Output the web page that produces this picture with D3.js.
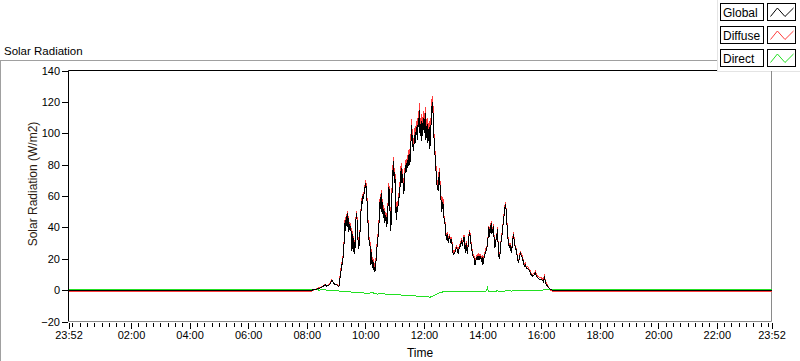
<!DOCTYPE html>
<html><head><meta charset="utf-8">
<script src="https://cdn.jsdelivr.net/npm/d3@7"></script>
<style>
html,body{margin:0;padding:0;background:#fff;}
svg{display:block;font-family:"Liberation Sans",Arial,sans-serif;}
</style></head>
<body>
<svg id="c" width="800" height="361"></svg>
<script>
// ---- DATA (time in minutes since midnight; -8 = 23:52 of previous day) ----
const seriesNames = ["Global", "Diffuse", "Direct"];
const yTickValues = [-20, 0, 20, 40, 60, 80, 100, 120, 140];
const xTickValues = [-8, 120, 240, 360, 480, 600, 720, 840, 960, 1080, 1200, 1320, 1432];
const xTickLabels = ["23:52","02:00","04:00","06:00","08:00","10:00","12:00","14:00","16:00","18:00","20:00","22:00","23:52"];

const globalData = [[-8,0],[490,0],[497.2,0.3],[504,1],[510.9,2],[514.3,2.5],[517.7,3.5],[521.1,2.5],[524.6,3],[528,4],[531.4,6.4],[534.8,4.5],[538.2,3.5],[541.6,3.5],[545,2.5],[547.1,3],
[548.5,9],[550.5,13],[552.6,17],[554.6,21],[556,27],[557.3,35],[558.7,45],[560,38],[561.4,47],[562.8,40],[564.2,49],[565.5,37],[566.9,42],[569,38],[570.3,41],[572.4,25],[573.7,36],[575.1,24],[576.5,33],[577.8,23],[579.9,30],[581.2,49],[582.6,47],[584,40],[585.3,30],[586.7,26],[588,33],[589.4,38],[590.8,48],[592.2,57],[593.5,55],[594.9,60],[596.3,58],[597.6,62],[599.7,66],
[601,68],[602.4,63],[603.8,55],[605.1,45],[606.5,38],[607.9,30],[610,28],[611.4,16],[612.7,24],[614.1,14],[615.5,19],[616.8,13],[618.2,15],[619.6,12],[620.9,13],[623,25],[625,30],[627.8,41],[629.8,56],[631.2,52],[632.5,62],[633.9,50],[635.3,56],[636.6,46],[638,52],[640,43],[642.1,48],[644.1,40],[645.5,50],[646.9,55],[648.2,66],[649.6,58],
[651,47],[652.3,38],[653.7,52],[655.1,66],[656.4,75],[657.8,82],[659.2,68],[660.5,75],[661.9,58],[663.3,45],[664.6,53],[666,50],[667.4,55],[669.4,60],[670.8,64],[672.2,72],[673.5,78],[674.9,68],[676.3,74],[677.6,66],[679,61],[680.3,72],[681.7,76],[683.1,80],[684.4,75],[685.8,83],[687.2,78],[688.5,85],[689.9,87],
[691.3,80],[692.6,88],[694,98],[694.7,105],[696,96],[697.4,92],[698.8,89],[700.2,95],[701.5,99],[702.9,94],[704.3,104],[705.6,100],[707,96],[708.4,110],[709.8,104],[710.4,115],[711.8,100],[713.1,106],[714.5,95],[715.9,108],[717.2,98],[718.6,104],[720,110],[721.3,100],[722.7,113],[724.1,96],[725.4,102],[726.8,106],[728.2,94],[729.5,99],[730.9,104],[732.3,90],[733.6,100],[735,108],[736.4,117],[737.7,120],[739.1,110],
[740.5,98],[741.8,90],[743.2,84],[744.6,77],[745.9,70],[747.3,66],[749.4,63],[750.8,72],[752.1,75],[753.5,62],[754.9,58],[756.2,50],[757.6,53],[759,56],
[760.3,48],[761.7,45],[763.7,41],[765.8,32],[767.8,36],[769.9,30],[771.3,33],[772.6,34],[774.7,31],[776,32],[777.4,30],[779.5,24],[780.8,23],[782.9,24],[784.9,25],[786.3,27],[788.3,26],[790.4,23],[791.7,26],[793.1,27],[795.2,29],[797.2,32],[798.6,28],[799.9,30],[802,34],[803.4,30],[804.7,24],[806.8,30],[808.8,23],[810.9,29],[812.2,34],[813.6,37],[815.6,32],[817.7,26],[819.1,24],[820.4,22],[822.5,21],[824.5,16],[825.9,18],[827.3,20],[829.3,21],[831.4,19],[832.7,22],[834.1,20],[836.1,21],[838.2,19],[839.6,21],[840.9,16],[843,20],[844.3,22],[846.4,24],[847.8,26],[849.8,28],
[851.8,35],[853.2,40],[854.6,34],[856,38],[858,43],[859.4,36],[860.7,38],[862.8,41],[864.1,30],[865.5,27],[866.9,31],[868.9,33],[871,39],[872.3,25],[873.7,21],[875.1,20],[877.1,28],[879.2,34],[880.5,36],[881.9,41],[884,47],[885.3,50],[886.7,55],[888.1,52],[889.5,44],[890.8,40],[892.2,33],[893.6,29],[894.9,27],[896.3,29],[897.7,26],[899,24],[900.4,27],[901.8,30],[903.1,36],[904.5,33],[905.9,29],[907.2,27],[908.6,26],[910,24],[912,19],[914.1,18],[916.1,21],[917.5,24],[919.5,22],[921.6,21],[923.6,18],[925.7,15],[927.7,16],[929.8,14],[932.5,14],[934.6,13],[936.6,12],[939.3,10],[942.8,9],[946.2,10],[948.2,11],[950.3,9],[953,8],[956.4,7],[959.8,7],[963.2,6],[965.3,5],[966.7,9],[968.7,5],[970.8,3.5],[973.5,2.5],[976.9,1],[980.3,0.3],[983.7,0],[1432,0]];

const diffuseData = [[-8,-0.7],[490,-0.7],[497.2,0.6],[504,1.3],[510.9,2.3],[514.3,2.8],[517.7,3.8],[521.1,2.8],[524.6,3.3],[528,4.3],[531.4,6.7],[534.8,4.8],[538.2,3.8],[541.6,3.8],[545,2.8],[547.1,3.3],
[548.5,10.5],[550.5,14.5],[552.6,18.5],[554.6,22.5],[556,28.5],[557.3,36.5],[558.7,46.5],[560,39.5],[561.4,48.5],[562.8,41.5],[564.2,50.5],[565.5,38.5],[566.9,43.5],[569,39.5],[570.3,42.5],[572.4,26.5],[573.7,37.5],[575.1,25.5],[576.5,34.5],[577.8,24.5],[579.9,31.5],[581.2,50.5],[582.6,48.5],[584,41.5],[585.3,31.5],[586.7,27.5],[588,34.5],[589.4,39.5],[590.8,49.5],[592.2,58.5],[593.5,56.5],[594.9,61.5],[596.3,59.5],[597.6,63.5],[599.7,67.5],
[601,70],[602.4,65],[603.8,57],[605.1,47],[606.5,40],[607.9,32],[610,30],[611.4,18],[612.7,26],[614.1,16],[615.5,21],[616.8,15],[618.2,17],[619.6,14],[620.9,15],[623,27],[625,32],[627.8,43],[629.8,58],[631.2,54],[632.5,64],[633.9,52],[635.3,58],[636.6,48],[638,54],[640,45],[642.1,50],[644.1,42],[645.5,52],[646.9,57],[648.2,68],[649.6,60],
[651,50],[652.3,41],[653.7,55],[655.1,69],[656.4,78],[657.8,85],[659.2,71],[660.5,78],[661.9,61],[663.3,48],[664.6,56],[666,53],[667.4,58],[669.4,63],[670.8,67],[672.2,75],[673.5,81],[674.9,71],[676.3,77],[677.6,69],[679,64],[680.3,75],[681.7,79],[683.1,83],[684.4,78],[685.8,86],[687.2,81],[688.5,88],[689.9,90],
[691.3,84],[692.6,92],[694,102],[694.7,109],[696,100],[697.4,96],[698.8,93],[700.2,99],[701.5,103],[702.9,98],[704.3,108],[705.6,104],[707,100],[708.4,114],[709.8,108],[710.4,119],[711.8,104],[713.1,110],[714.5,99],[715.9,112],[717.2,102],[718.6,108],[720,114],[721.3,104],[722.7,117],[724.1,100],[725.4,106],[726.8,110],[728.2,98],[729.5,103],[730.9,108],[732.3,94],[733.6,104],[735,112],[736.4,121],[737.7,124],[739.1,114],
[740.5,101],[741.8,93],[743.2,87],[744.6,80],[745.9,73],[747.3,69],[749.4,66],[750.8,75],[752.1,78],[753.5,65],[754.9,61],[756.2,53],[757.6,56],[759,59],
[760.3,49.3],[761.7,46.3],[763.7,42.3],[765.8,33.3],[767.8,37.3],[769.9,31.3],[771.3,34.3],[772.6,35.3],[774.7,32.3],[776,33.3],[777.4,31.3],[779.5,25.3],[780.8,24.3],[782.9,25.3],[784.9,26.3],[786.3,28.3],[788.3,27.3],[790.4,24.3],[791.7,27.3],[793.1,28.3],[795.2,30.3],[797.2,33.3],[798.6,29.3],[799.9,31.3],[802,35.3],[803.4,31.3],[804.7,25.3],[806.8,31.3],[808.8,24.3],[810.9,30.3],[812.2,35.3],[813.6,38.3],[815.6,33.3],[817.7,27.3],[819.1,25.3],[820.4,23.3],[822.5,22.3],[824.5,17.3],[825.9,19.3],[827.3,21.3],[829.3,22.3],[831.4,20.3],[832.7,23.3],[834.1,21.3],[836.1,22.3],[838.2,20.3],[839.6,22.3],[840.9,17.3],[843,21.3],[844.3,23.3],[846.4,25.3],[847.8,27.3],[849.8,28.5],
[851.8,36],[853.2,41],[854.6,35],[856,39],[858,44],[859.4,37],[860.7,39],[862.8,42],[864.1,31],[865.5,28],[866.9,32],[868.9,34],[871,40],[872.3,26],[873.7,22],[875.1,21],[877.1,29],[879.2,35],[880.5,37],[881.9,42],[884,48],[885.3,51],[886.7,56],[888.1,53],[889.5,45],[890.8,41],[892.2,34],[893.6,30],[894.9,28],[896.3,30],[897.7,27],[899,25],[900.4,28],[901.8,31],[903.1,37],[904.5,34],[905.9,30],[907.2,28],[908.6,27],[910,25],[912,20],[914.1,19],[916.1,22],[917.5,25],[919.5,23],[921.6,22],[923.6,19],[925.7,16],[927.7,17],[929.8,15],[932.5,15],[934.6,14],[936.6,13],[939.3,11],[942.8,10],[946.2,11],[948.2,12],[950.3,10],[953,9],[956.4,8],[959.8,8],[963.2,7],[965.3,6],[966.7,10],[968.7,6],[970.8,4.5],[973.5,3],[976.9,1],[980.3,-0.2],[983.7,-0.7],[1432,-0.7]];

const directData = [[-8,0.7],[497,0.7],[505,0],[515,0.3],[525,-0.3],[535,0],[545,-0.5],[555,-1],[565,-0.8],[575,-1.5],[585,-1.2],[595,-1.8],[605,-2],[615,-1.7],[625,-2.5],[635,-2.2],[645,-2.8],[655,-3],[665,-2.7],[675,-3.2],[685,-3.5],[695,-3.3],[705,-3.8],[715,-4],[725,-4.2],[733,-4.5],[740,-3.5],[745,-2.8],[750,-2],[755,-1.5],[760,-1],[770,-0.8],[780,-1.2],[790,-0.7],[800,-1],[810,-0.6],[820,-1],[830,-0.8],[840,-1.1],[848,-0.5],[850,1.5],[852,-0.7],[860,-1],[870,-0.5],[880,-0.8],[890,-0.4],[900,-0.6],[910,-0.3],[920,-0.5],[930,-0.2],[940,-0.4],[950,-0.2],[960,0],[970,0.2],[980,0.7],[1432,0.7]];

const seriesColors = ["#000000", "#ff3c3c", "#22e022"];

// ---- LAYOUT ----
const svg = d3.select("#c");
const L = 68.5, R = 771.5, T = 70.5, B = 321.5;
const x = d3.scaleLinear().domain([-8, 1432]).range([L, R]);
const y = d3.scaleLinear().domain([-20, 140]).range([B, T]);

// outer panel frame
svg.append("line").attr("x1",0).attr("x2",717).attr("y1",60.5).attr("y2",60.5).attr("stroke","#a0a0a0");
svg.append("line").attr("x1",0.5).attr("x2",0.5).attr("y1",60).attr("y2",361).attr("stroke","#a0a0a0");

// title
svg.append("text").attr("x",4).attr("y",55).attr("font-size","11.5px").attr("fill","#000").text("Solar Radiation");

// plot frame
svg.append("line").attr("x1",L).attr("x2",R).attr("y1",T).attr("y2",T).attr("stroke","#000");
svg.append("line").attr("x1",L).attr("x2",L).attr("y1",T).attr("y2",B).attr("stroke","#000");
svg.append("line").attr("x1",R).attr("x2",R).attr("y1",T).attr("y2",B).attr("stroke","#8a8a8a");
svg.append("line").attr("x1",L).attr("x2",R).attr("y1",B).attr("y2",B).attr("stroke","#8a8a8a");

// y axis
const yAxis = d3.axisLeft(y).tickValues(yTickValues).tickSize(6).tickPadding(2).tickFormat(d3.format("d"));
const gy = svg.append("g").attr("transform",`translate(${L-0.5},0)`).call(yAxis);
gy.select(".domain").remove();
gy.selectAll("text").attr("font-size","11px").attr("fill","#000").attr("font-family","Liberation Sans, Arial, sans-serif");

// x axis minor ticks
const minor = d3.range(0, 1432, 15).filter(v => !xTickValues.includes(v));
const gxm = svg.append("g").attr("transform",`translate(0,${B+1})`)
  .call(d3.axisBottom(x).tickValues(minor).tickSize(4).tickFormat(""));
gxm.select(".domain").remove();
// x axis major ticks
const gx = svg.append("g").attr("transform",`translate(0,${B+1})`)
  .call(d3.axisBottom(x).tickValues(xTickValues).tickSize(6).tickPadding(3).tickFormat((d,i)=>xTickLabels[i]));
gx.select(".domain").remove();
gx.selectAll("text").attr("font-size","11px").attr("fill","#000").attr("font-family","Liberation Sans, Arial, sans-serif");
svg.selectAll(".tick line").attr("shape-rendering","crispEdges");

// axis titles
svg.append("text").attr("transform",`translate(37,${(T+B)/2 - 12}) rotate(-90)`).attr("text-anchor","middle")
  .attr("font-size","12px").attr("fill","#2a1a10").text("Solar Radiation (W/m2)");
svg.append("text").attr("x",(L+R)/2).attr("y",357).attr("text-anchor","middle").attr("font-size","12px").attr("fill","#000").text("Time");

// data lines
const line = d3.line().x(d => x(d[0])).y(d => y(d[1]));
const plot = svg.append("g");
plot.append("path").datum(diffuseData).attr("d",line).attr("fill","none").attr("stroke",seriesColors[1]).attr("stroke-width",1).attr("shape-rendering","crispEdges");
plot.append("path").datum(directData).attr("d",line).attr("fill","none").attr("stroke",seriesColors[2]).attr("stroke-width",1).attr("shape-rendering","crispEdges");
plot.append("path").datum(globalData).attr("d",line).attr("fill","none").attr("stroke",seriesColors[0]).attr("stroke-width",1).attr("shape-rendering","crispEdges");

// legend
const lg = svg.append("g");
lg.append("rect").attr("x",717).attr("y",0).attr("width",83).attr("height",72).attr("fill","#fff");
lg.append("line").attr("x1",717.5).attr("x2",717.5).attr("y1",0).attr("y2",72).attr("stroke","#e4e4e4");
lg.append("line").attr("x1",717).attr("x2",800).attr("y1",71.5).attr("y2",71.5).attr("stroke","#e4e4e4");
lg.append("line").attr("x1",R).attr("x2",R).attr("y1",71).attr("y2",72).attr("stroke","#8a8a8a");
const zig = [[0,1],[0.3,0],[0.63,1],[1,0]];
seriesNames.forEach((name,i) => {
  const top = 3.5 + i*23;
  lg.append("rect").attr("x",720.5).attr("y",top).attr("width",43).attr("height",17).attr("fill","#fff").attr("stroke","#000");
  lg.append("text").attr("x",723).attr("y",top+13.5).attr("font-size","12px").attr("fill","#000").text(name);
  lg.append("rect").attr("x",767.5).attr("y",top).attr("width",28).attr("height",17).attr("fill","#fff").attr("stroke","#000");
  const zx = d3.scaleLinear().domain([0,1]).range([770.5,793.5]);
  const zy = d3.scaleLinear().domain([0,1]).range([top+4.5, top+13]);
  lg.append("path").attr("d", d3.line().x(d=>zx(d[0])).y(d=>zy(d[1]))(zig)).attr("fill","none").attr("stroke",seriesColors[i]).attr("stroke-width",1);
});
</script>
</body></html>
